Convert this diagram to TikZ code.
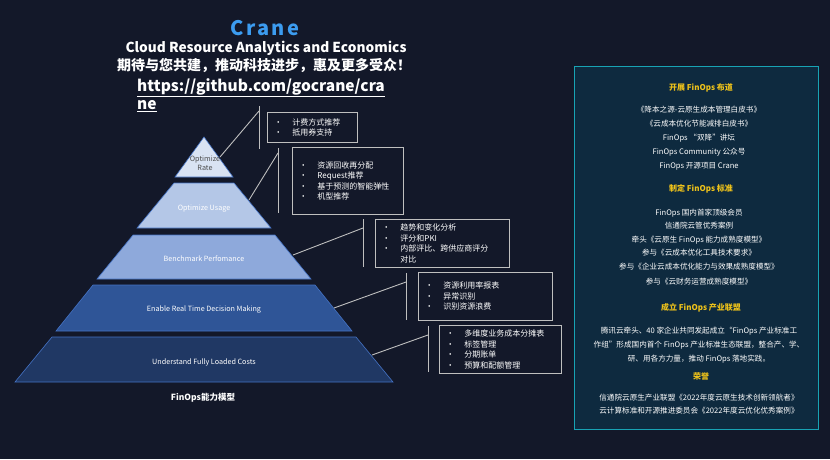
\documentclass[tikz,border=0pt]{standalone}
\usepackage{fontspec}
\setmainfont{Noto Sans CJK SC}
\usepackage{xcolor}
\usepackage{tikz}
\usetikzlibrary{positioning,calc}
\definecolor{bgdark}{HTML}{131829}
\definecolor{craneblue}{HTML}{3C9CF0}
\definecolor{tierA}{HTML}{D9E3F3}
\definecolor{tierB}{HTML}{B4C7E7}
\definecolor{tierC}{HTML}{8EA9DB}
\definecolor{tierD}{HTML}{2F5597}
\definecolor{tierE}{HTML}{203864}
\definecolor{tieredge}{HTML}{4472C4}
\definecolor{calloutgray}{HTML}{BFBFBF}
\definecolor{panelfill}{HTML}{0E2A3F}
\definecolor{panelteal}{HTML}{18A3B4}
\definecolor{gold}{HTML}{EEC21A}
\tikzset{
  tierlbl/.style={text=white, font=\fontsize{7.2}{8.8}\selectfont, align=center, inner sep=1pt},
  callout/.style={draw=calloutgray, line width=0.9pt, text=white, anchor=north west,
    inner xsep=7pt, align=left, font=\fontsize{8}{10.5}\selectfont},
  leader/.style={draw=calloutgray, line width=0.9pt},
  panelhead/.style={text=gold, font=\bfseries\fontsize{8}{9}\selectfont},
  paneltxt/.style={text=white, font=\fontsize{7.6}{9}\selectfont}
}
\newcommand{\bitem}[1]{\makebox[18pt][l]{•}#1}

\begin{document}
\begin{tikzpicture}[x=1pt,y=-1pt]
  \fill[bgdark] (0,0) rectangle (830,459);
  \useasboundingbox (0,0) rectangle (830,459);
  \node[text=craneblue, font=\bfseries\fontsize{20}{22}\selectfont\addfontfeature{LetterSpace=12}] (title) at (265,28) {Crane};
  \node[text=white, font=\bfseries\fontsize{13.7}{15}\selectfont] (subtitle) at (266,48) {Cloud Resource Analytics and Economics};
  \node[text=white, font=\bfseries\fontsize{14}{15}\selectfont] (slogan) at (264,66) {期待与您共建，推动科技进步，惠及更多受众！};
  \node[text=white, anchor=north west, align=left, inner sep=0pt, font=\bfseries\fontsize{15.5}{18}\selectfont] (url) at (137,78)
    {\underline{https://github.com/gocrane/cra}\\\underline{ne}};
  \foreach \i/\yt/\yb/\wt/\wb/\col in {1/137/177/0/29/tierA, 2/183/228/30/67/tierB,
      3/235/279/71/107/tierC, 4/285/331/111/148/tierD, 5/337/382/152/189/tierE}
    \filldraw[fill=\col, draw=tieredge, line width=0.6pt]
      (204-\wt,\yt) -- (204+\wt,\yt) -- (204+\wb,\yb) -- (204-\wb,\yb) -- cycle;
  \node[tierlbl, text=black!70] (rate) at (205,163) {Optimize\\Rate};
  \node[tierlbl] (usage) at (204,209) {Optimize Usage};
  \node[tierlbl] (bench) at (204,259) {Benchmark Perfomance};
  \node[tierlbl] (decide) at (204,310) {Enable Real Time Decision Making};
  \node[tierlbl] (costs) at (204,362) {Understand Fully Loaded Costs};
  \node[text=white, font=\bfseries\fontsize{8.5}{10}\selectfont] (model) at (203,398) {FinOps能力模型};
  \node[callout, minimum height=30pt, text width=76pt] (rateBox) at (267,112)
    {\bitem{计费方式推荐}\\\bitem{抵用券支持}};
  \node[callout, minimum height=67pt, text width=97pt] (usageBox) at (292,147)
    {\bitem{资源回收再分配}\\\bitem{Request推荐}\\\bitem{基于预测的智能弹性}\\\bitem{机型推荐}};
  \node[callout, minimum height=48pt, text width=120pt] (benchBox) at (375,219)
    {\bitem{趋势和变化分析}\\\bitem{评分和PKI}\\\bitem{内部评比、跨供应商评分}\\\hspace*{18pt}对比};
  \node[callout, minimum height=48pt, text width=120pt] (decideBox) at (418,272)
    {\bitem{资源利用率报表}\\\bitem{异常识别}\\\bitem{识别资源浪费}};
  \node[callout, minimum height=48pt, text width=108pt] (costsBox) at (439,325)
    {\bitem{多维度业务成本分摊表}\\\bitem{标签管理}\\\bitem{分期账单}\\\bitem{预算和配额管理}};
  \foreach \n/\ex/\ey/\vx/\vt/\vj/\vb in {1/220/157/259/106/111/149, 2/249/200/278/148/153/213,
      3/293/255/363/219/228/267, 4/334/308/406/273/282/320, 5/372/355/428/326/335/372} {
    \coordinate (edge\n) at (\ex,\ey);
    \coordinate (join\n) at (\vx,\vj);
    \coordinate (top\n) at (\vx,\vt);
    \coordinate (bot\n) at (\vx,\vb);
    \draw[leader] (edge\n) -- (join\n);
    \draw[leader] (top\n) -- (bot\n);
  }
  \node[draw=panelteal, fill=panelfill, line width=1.2pt, minimum width=244pt, minimum height=363pt,
    anchor=north west] (panel) at (574,66) {};
  \foreach \y/\t [count=\k] in {88/开展 FinOps 布道, 189/制定 FinOps 标准, 308/成立 FinOps 产业联盟, 376/荣誉}
    \node[panelhead] (head\k) at (701,\y) {\t};
  \foreach \y/\t [count=\k] in {110/《降本之源-云原生成本管理白皮书》, 124/《云成本优化节能减排白皮书》,
      138/FinOps “双降”讲坛, 152/FinOps Community 公众号, 166/FinOps 开源项目 Crane,
      213/FinOps 国内首家顶级会员, 226/信通院云管优秀案例, 240/牵头《云原生 FinOps 能力成熟度模型》,
      253/参与《云成本优化工具技术要求》, 267/参与《企业云成本优化能力与效果成熟度模型》,
      282/参与《云财务运营成熟度模型》,
      331/腾讯云牵头、40 家企业共同发起成立“FinOps 产业标准工,
      345/作组”形成国内首个 FinOps 产业标准生态联盟，整合产、学、,
      359/研、用各方力量，推动 FinOps 落地实践。,
      398/信通院云原生产业联盟《2022年度云原生技术创新领航者》,
      411/云计算标准和开源推进委员会《2022年度云优化优秀案例》}
    \node[paneltxt] (line\k) at (699,\y) {\t};
\end{tikzpicture}
\end{document}
